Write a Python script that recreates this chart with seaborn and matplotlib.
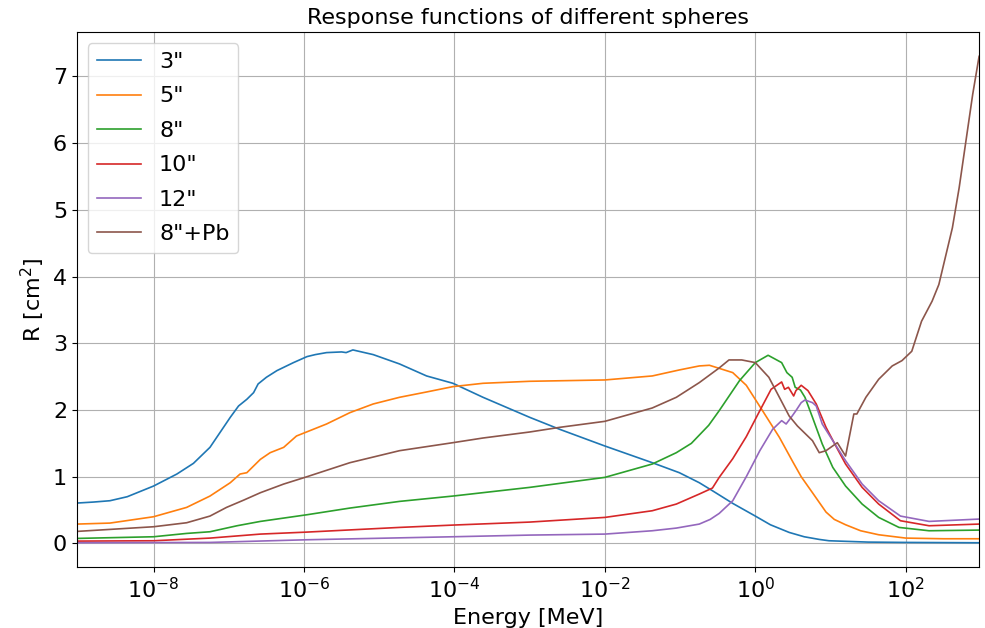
import numpy as np
import pandas as pd
import matplotlib
matplotlib.use("Agg")
import matplotlib.pyplot as plt
import seaborn as sns
from matplotlib.ticker import NullLocator, FixedLocator, LogFormatterSciNotation

# log10(Energy/MeV) and response R [cm^2] for each sphere
logE_3 = [-9.02, -8.80, -8.58, -8.35, -8.0, -7.69, -7.47, -7.25, -7.16, -7.07, -6.98, -6.87, -6.76, -6.67, -6.61,
          -6.50, -6.36, -6.14, -5.96, -5.85, -5.70, -5.50, -5.44, -5.35, -5.08, -4.73, -4.37, -4.02,
          -3.62, -3.0, -2.60, -2.0, -1.37, -1.01, -0.745, -0.57, -0.30, 0.0, 0.20, 0.45, 0.65, 0.85, 0.98,
          1.5, 2.0, 2.975]
R_3 = [0.605, 0.62, 0.64, 0.70, 0.86, 1.04, 1.20, 1.44, 1.59, 1.74, 1.89, 2.06, 2.16, 2.26, 2.39,
       2.49, 2.59, 2.71, 2.80, 2.83, 2.86, 2.87, 2.86, 2.90, 2.83, 2.69, 2.51, 2.40,
       2.19, 1.89, 1.71, 1.46, 1.21, 1.06, 0.91, 0.79, 0.60, 0.41, 0.28, 0.165, 0.10, 0.06, 0.04,
       0.02, 0.015, 0.01]

logE_5 = [-9.02, -8.58, -8.0, -7.56, -7.25, -6.98, -6.85, -6.76, -6.58, -6.45, -6.27, -6.10, -5.70, -5.39,
          -5.08, -4.73, -4.37, -4.02, -3.62, -3.0, -2.0, -1.37, -1.01, -0.745, -0.61, -0.30, -0.12,
          0.09, 0.32, 0.50, 0.61, 0.76, 0.94, 1.05, 1.20, 1.40, 1.64, 2.0, 2.5, 2.975]
R_5 = [0.29, 0.305, 0.40, 0.54, 0.71, 0.91, 1.04, 1.06, 1.26, 1.36, 1.44, 1.61, 1.79, 1.96,
       2.09, 2.19, 2.27, 2.35, 2.40, 2.43, 2.45, 2.51, 2.60, 2.66, 2.67, 2.56, 2.37,
       2.0, 1.59, 1.22, 1.0, 0.76, 0.47, 0.36, 0.28, 0.19, 0.13, 0.08, 0.07, 0.07]

logE_8 = [-9.02, -8.0, -7.56, -7.25, -6.89, -6.58, -5.96, -5.39, -4.73, -4.02, -3.0, -2.0, -1.37, -1.05,
          -0.85, -0.62, -0.48, -0.21, 0.0, 0.17, 0.35, 0.42, 0.49, 0.53, 0.60, 0.66, 0.76, 0.89, 1.03,
          1.20, 1.42, 1.64, 1.91, 2.31, 2.975]
R_8 = [0.075, 0.10, 0.15, 0.175, 0.265, 0.33, 0.43, 0.53, 0.63, 0.71, 0.84, 0.99, 1.19, 1.36,
       1.50, 1.77, 1.99, 2.44, 2.71, 2.82, 2.71, 2.56, 2.49, 2.34, 2.30, 2.19, 1.89, 1.49, 1.14,
       0.86, 0.59, 0.39, 0.24, 0.19, 0.20]

logE_10 = [-9.02, -8.0, -7.25, -6.58, -5.96, -4.73, -4.02, -3.0, -2.0, -1.37, -1.05, -0.745, -0.57,
           -0.48, -0.30, -0.12, 0.06, 0.21, 0.35, 0.39, 0.44, 0.51, 0.54, 0.61, 0.70, 0.81, 0.94, 1.08,
           1.20, 1.42, 1.64, 1.93, 2.31, 2.975]
R_10 = [0.035, 0.04, 0.08, 0.14, 0.17, 0.24, 0.275, 0.32, 0.39, 0.49, 0.59, 0.74, 0.83,
        0.99, 1.27, 1.60, 1.99, 2.31, 2.42, 2.31, 2.34, 2.21, 2.29, 2.37, 2.29, 2.09, 1.74, 1.44,
        1.19, 0.84, 0.59, 0.34, 0.265, 0.29]

logE_12 = [-9.02, -7.25, -5.96, -4.02, -3.0, -2.0, -1.37, -1.05, -0.745, -0.60, -0.48, -0.30, -0.12, 0.06,
           0.23, 0.35, 0.41, 0.49, 0.54, 0.61, 0.66, 0.76, 0.81, 0.89, 1.03, 1.20, 1.42, 1.64,
           1.93, 2.31, 2.975]
R_12 = [0.01, 0.015, 0.055, 0.10, 0.125, 0.14, 0.19, 0.23, 0.29, 0.36, 0.45, 0.64, 1.00, 1.39,
        1.71, 1.84, 1.79, 1.91, 1.99, 2.11, 2.15, 2.11, 2.06, 1.79, 1.54, 1.24, 0.89, 0.64,
        0.41, 0.33, 0.365]

logE_8Pb = [-9.02, -8.0, -7.56, -7.25, -7.03, -6.80, -6.58, -6.27, -5.96, -5.39, -4.73, -4.02, -3.62,
            -3.0, -2.60, -2.0, -1.37, -1.05, -0.745, -0.48, -0.35, -0.18, 0.0, 0.18, 0.32, 0.45,
            0.56, 0.76, 0.85, 0.94, 1.09, 1.20, 1.31, 1.35, 1.47, 1.64, 1.82, 1.95, 2.08, 2.21,
            2.35, 2.44, 2.62, 2.71, 2.80, 2.89, 2.975]
R_8Pb = [0.18, 0.25, 0.31, 0.41, 0.54, 0.65, 0.76, 0.89, 1.00, 1.21, 1.39, 1.51, 1.58,
         1.67, 1.74, 1.83, 2.03, 2.19, 2.41, 2.63, 2.75, 2.75, 2.71, 2.49, 2.19, 1.91,
         1.76, 1.54, 1.36, 1.39, 1.51, 1.31, 1.94, 1.94, 2.19, 2.46, 2.66, 2.74, 2.88, 3.33,
         3.63, 3.88, 4.73, 5.33, 6.03, 6.73, 7.30]

labels = ['3"', '5"', '8"', '10"', '12"', '8"+Pb']
series_logE = [logE_3, logE_5, logE_8, logE_10, logE_12, logE_8Pb]
series_R = [R_3, R_5, R_8, R_10, R_12, R_8Pb]
xtick_exponents = [-8, -6, -4, -2, 0, 2]

frames = []
for lab, lx, r in zip(labels, series_logE, series_R):
    frames.append(pd.DataFrame({"Energy": 10.0 ** np.array(lx), "R": r, "Sphere": lab}))
df = pd.concat(frames, ignore_index=True)

plt.rcParams["font.family"] = ["DejaVu Sans"]
fig, ax = plt.subplots(figsize=(9.85, 6.28), dpi=100)
fig.subplots_adjust(left=0.078, right=0.994, top=0.949, bottom=0.097)

sns.lineplot(data=df, x="Energy", y="R", hue="Sphere", hue_order=labels,
             palette=sns.color_palette("tab10", 6), sort=False, estimator=None,
             linewidth=1.2, ax=ax)
ax.set_xscale("log")
ax.set_xlim(df["Energy"].min(), df["Energy"].max())
ax.xaxis.set_major_locator(FixedLocator([10.0 ** e for e in xtick_exponents]))
ax.xaxis.set_major_formatter(LogFormatterSciNotation())
ax.xaxis.set_minor_locator(NullLocator())
ax.grid(True, color="#b0b0b0", linewidth=0.8)
ax.set_axisbelow(True)

ax.set_xlabel("Energy [MeV]", fontsize=16)
ax.set_ylabel("R [cm$^2$]", fontsize=16)
ax.set_title("Response functions of different spheres", fontsize=16)
ax.tick_params(labelsize=16)
ax.legend(loc="upper left", fontsize=16, labelspacing=0.65)

fig.savefig("out.png", dpi=100)
